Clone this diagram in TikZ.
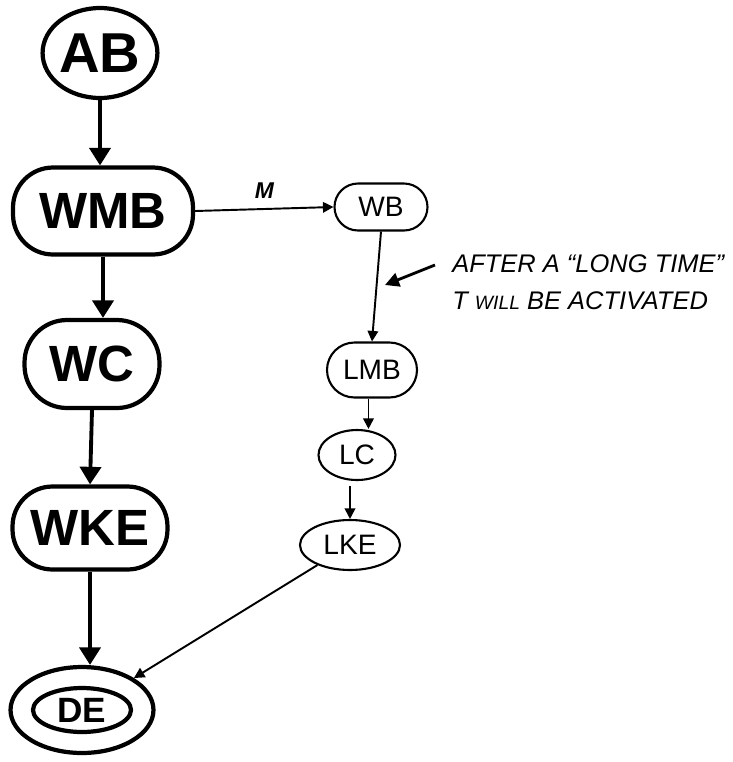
\documentclass[tikz,border=0pt]{standalone}
\usepackage{fontspec}
\setmainfont{Liberation Sans}
\usetikzlibrary{shapes,arrows.meta,positioning}

\begin{document}
\begin{tikzpicture}[x=0.02cm, y=-0.02cm,
  bigstate/.style={draw, line width=2.4pt, inner sep=0pt, font=\bfseries\fontsize{29}{31}\selectfont},
  smallstate/.style={draw, line width=1.2pt, inner sep=0pt, font=\fontsize{16}{18}\selectfont},
  bigarrow/.style={-{Triangle[width=12pt,length=10pt]}, line width=2.2pt},
  smallarrow/.style={-{Triangle[width=6pt,length=6pt]}, line width=1.1pt}]
\useasboundingbox (0,0) rectangle (733,762);

% winning path
\node[bigstate, ellipse, minimum width=2.1cm, minimum height=1.8cm, font=\bfseries\fontsize{32}{34}\selectfont] (ab) at (100,53) {AB};
\node[bigstate, rounded corners=0.8cm, minimum width=3.6cm, minimum height=1.74cm] (wmb) at (103,211) {WMB};
\node[bigstate, rounded corners=0.85cm, minimum width=2.7cm, minimum height=1.76cm] (wc) at (92,364) {WC};
\node[bigstate, rounded corners=0.8cm, minimum width=3.1cm, minimum height=1.66cm] (wke) at (90,528) {WKE};
\node[bigstate, ellipse, minimum width=1.96cm, minimum height=0.88cm, font=\bfseries\fontsize{20}{22}\selectfont] (de) at (82,710) {DE};
\node[draw, line width=2.4pt, ellipse, minimum width=2.86cm, minimum height=1.72cm] (deouter) at (de) {};

% losing path
\node[smallstate, rounded corners=0.47cm, minimum width=1.86cm, minimum height=0.94cm] (wb) at (381,207) {WB};
\node[smallstate, rounded corners=0.55cm, minimum width=1.8cm, minimum height=1.1cm] (lmb) at (372,370) {LMB};
\node[smallstate, ellipse, minimum width=1.54cm, minimum height=1.0cm] (lc) at (357,455) {LC};
\node[smallstate, ellipse, minimum width=2.0cm, minimum height=1.0cm] (lke) at (350,545) {LKE};

\draw[bigarrow] (ab.south) -- (ab.south |- wmb.north);
\draw[bigarrow] (wmb.south) -- (wmb.south |- wc.north);
\draw[bigarrow] (wc.south) -- (wke.north);
\draw[bigarrow] (wke.south) -- (wke.south |- deouter.north);

\draw[smallarrow] (wmb.east) -- (wb.west) node[midway, above=2pt, font=\bfseries\itshape\fontsize{13}{15}\selectfont] {M};
\draw[smallarrow] (wb.south) -- (lmb.north);
\draw[smallarrow] ([xshift=-2pt]lmb.south) -- ([xshift=-2pt]lmb.south |- lc.north);
\draw[smallarrow] ([yshift=-3pt]lke.north |- lc.south) -- (lke.north);
\draw[smallarrow] (lke) -- (deouter);

% note on the WB -- LMB edge
\node[anchor=north west, align=left, inner sep=0pt, font=\itshape\fontsize{14.5}{21.5}\selectfont] (note) at (452,254)
  {AFTER A ``LONG TIME''\\T {\fontsize{11}{12}\selectfont WILL} BE ACTIVATED};
\coordinate (notetail) at (435,265);
\coordinate (notetip) at (385,285);
\draw[-{Triangle[width=8pt,length=8pt]}, line width=1.6pt] (notetail) -- (notetip);
\end{tikzpicture}
\end{document}
